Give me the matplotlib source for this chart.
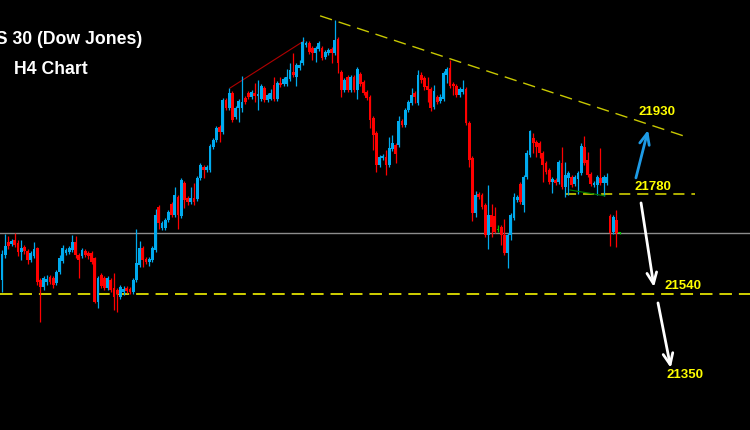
import matplotlib
matplotlib.use("Agg")
import matplotlib.pyplot as plt
import numpy as np

plt.rcParams["lines.scale_dashes"] = False

# US 30 H4 candles (price points)
opens = [21574, 21634, 21665, 21660, 21670, 21663, 21641, 21653, 21644, 21622,
         21632, 21651, 21574, 21557, 21569, 21581, 21579, 21567, 21593, 21620,
         21639, 21641, 21646, 21665, 21634, 21632, 21644, 21639, 21639, 21627,
         21521, 21586, 21579, 21555, 21574, 21555, 21550, 21533, 21545, 21555,
         21552, 21545, 21574, 21610, 21651, 21624, 21617, 21622, 21646, 21749,
         21699, 21699, 21718, 21756, 21730, 21773, 21728, 21807, 21771, 21761,
         21771, 21768, 21819, 21845, 21838, 21838, 21893, 21910, 21941, 21929,
         22006, 21987, 22023, 21965, 21987, 21987, 22011, 22023, 22013, 22023,
         22016, 22008, 22035, 22006, 22008, 22042, 22008, 22047, 22044, 22044,
         22056, 22073, 22061, 22083, 22095, 22138, 22143, 22131, 22119, 22128,
         22131, 22109, 22119, 22128, 22119, 22152, 22073, 22030, 22061, 22030,
         22061, 22030, 22068, 22049, 22025, 22013, 21963, 21927, 21850, 21867,
         21869, 21850, 21888, 21898, 21898, 21956, 21946, 21982, 21999, 22023,
         21999, 22066, 22059, 22040, 22032, 21989, 22013, 22004, 22008, 22066,
         22083, 22044, 22040, 22018, 22025, 22032, 21951, 21867, 21735, 21780,
         21778, 21754, 21682, 21730, 21728, 21694, 21701, 21682, 21639, 21682,
         21723, 21766, 21804, 21754, 21821, 21874, 21915, 21905, 21903, 21879,
         21855, 21838, 21809, 21814, 21809, 21855, 21797, 21819, 21821, 21804,
         21816, 21831, 21893, 21862, 21828, 21802, 21802, 21819, 21807, 21807,
         21728, 21689, 21718, 21687]
highs = [21646, 21684, 21680, 21672, 21687, 21670, 21670, 21658, 21648, 21644,
         21665, 21653, 21579, 21584, 21586, 21586, 21584, 21598, 21634, 21658,
         21651, 21656, 21682, 21680, 21639, 21651, 21648, 21644, 21644, 21629,
         21584, 21591, 21584, 21584, 21579, 21591, 21555, 21562, 21560, 21560,
         21557, 21579, 21696, 21668, 21656, 21629, 21629, 21656, 21744, 21754,
         21716, 21723, 21742, 21761, 21797, 21778, 21819, 21812, 21776, 21797,
         21807, 21824, 21855, 21850, 21850, 21900, 21915, 21944, 21946, 22011,
         22011, 22035, 22028, 21992, 22008, 22064, 22016, 22028, 22030, 22047,
         22054, 22044, 22040, 22023, 22032, 22061, 22052, 22061, 22061, 22080,
         22095, 22119, 22095, 22102, 22157, 22148, 22148, 22136, 22136, 22148,
         22136, 22126, 22131, 22133, 22198, 22157, 22078, 22059, 22066, 22066,
         22066, 22085, 22073, 22054, 22030, 22018, 21968, 21932, 21874, 21876,
         21886, 21917, 21922, 21903, 21968, 21960, 21987, 22006, 22035, 22028,
         22078, 22073, 22064, 22061, 22037, 22042, 22018, 22020, 22076, 22085,
         22102, 22049, 22044, 22037, 22054, 22037, 21956, 21872, 21788, 21785,
         21783, 21759, 21802, 21756, 21749, 21706, 21706, 21720, 21687, 21735,
         21783, 21778, 21809, 21826, 21886, 21934, 21927, 21910, 21908, 21884,
         21860, 21843, 21821, 21819, 21862, 21893, 21857, 21836, 21826, 21826,
         21836, 21903, 21920, 21881, 21833, 21812, 21826, 21891, 21826, 21831,
         21732, 21730, 21742, 21689]
lows = [21545, 21627, 21648, 21656, 21653, 21632, 21622, 21636, 21612, 21617,
        21627, 21562, 21473, 21550, 21562, 21564, 21555, 21562, 21588, 21615,
        21634, 21636, 21641, 21627, 21579, 21627, 21629, 21624, 21612, 21519,
        21507, 21555, 21550, 21550, 21545, 21502, 21497, 21528, 21538, 21543,
        21540, 21540, 21569, 21605, 21605, 21612, 21608, 21617, 21641, 21696,
        21694, 21694, 21713, 21725, 21725, 21696, 21723, 21747, 21754, 21756,
        21754, 21764, 21814, 21819, 21833, 21833, 21888, 21905, 21905, 21924,
        21982, 21982, 21953, 21960, 21953, 21977, 21996, 22008, 22008, 22001,
        21982, 22004, 22001, 22001, 22006, 22004, 22004, 22037, 22040, 22040,
        22052, 22061, 22040, 22078, 22090, 22133, 22116, 22102, 22097, 22124,
        22102, 22104, 22114, 22095, 22114, 22071, 22013, 22025, 22025, 22025,
        22025, 22008, 22040, 22018, 22006, 21939, 21886, 21833, 21845, 21862,
        21826, 21845, 21884, 21855, 21893, 21941, 21941, 21977, 21994, 21999,
        21994, 22047, 22030, 22001, 21980, 21984, 21996, 21999, 22004, 22047,
        22035, 22018, 22013, 22013, 22020, 21946, 21845, 21716, 21725, 21768,
        21744, 21677, 21648, 21677, 21687, 21689, 21658, 21634, 21603, 21670,
        21718, 21761, 21756, 21737, 21816, 21869, 21879, 21869, 21867, 21809,
        21828, 21804, 21783, 21802, 21804, 21792, 21773, 21778, 21797, 21800,
        21780, 21826, 21850, 21821, 21800, 21797, 21778, 21802, 21776, 21802,
        21656, 21684, 21653, 21684]
closes = [21636, 21656, 21656, 21668, 21658, 21641, 21651, 21644, 21622, 21639,
          21648, 21569, 21557, 21579, 21576, 21569, 21562, 21593, 21627, 21651,
          21646, 21651, 21665, 21634, 21622, 21646, 21634, 21632, 21617, 21521,
          21579, 21560, 21555, 21579, 21550, 21533, 21540, 21557, 21552, 21548,
          21545, 21574, 21615, 21651, 21622, 21617, 21624, 21651, 21730, 21711,
          21711, 21718, 21737, 21730, 21778, 21730, 21814, 21766, 21761, 21771,
          21761, 21819, 21850, 21838, 21845, 21896, 21910, 21939, 21929, 22006,
          21987, 22023, 21958, 21987, 22004, 22001, 22001, 22013, 22025, 22016,
          22020, 22040, 22006, 22018, 22023, 22008, 22047, 22042, 22056, 22061,
          22078, 22066, 22090, 22090, 22145, 22143, 22121, 22119, 22131, 22143,
          22107, 22121, 22126, 22119, 22150, 22095, 22030, 22054, 22030, 22061,
          22030, 22080, 22044, 22023, 22011, 21958, 21922, 21850, 21869, 21872,
          21850, 21891, 21903, 21876, 21956, 21946, 21982, 22001, 22018, 22013,
          22066, 22054, 22037, 22030, 21987, 22028, 22001, 22013, 22071, 22080,
          22040, 22040, 22018, 22032, 22032, 21951, 21862, 21735, 21778, 21773,
          21749, 21682, 21730, 21701, 21689, 21694, 21682, 21639, 21682, 21730,
          21773, 21773, 21761, 21821, 21879, 21932, 21903, 21893, 21879, 21850,
          21833, 21809, 21816, 21807, 21857, 21797, 21826, 21831, 21802, 21821,
          21831, 21896, 21855, 21826, 21804, 21807, 21821, 21807, 21821, 21821,
          21687, 21725, 21687, 21687]

# analysis levels and drawn lines
support_level = 21540
range_low = 21780
range_x = [175.9, 216.6]
trend_x = [99.4, 214.1]
trend_y = [22208, 21917]
red_trend_x = [71.3, 94.4]
red_trend_y = [22035, 22148]
green_x = [177.5, 188.4]
green_y = [21790, 21776]

level_labels = ["21930", "21780", "21540", "21350"]
label_x = [204.7, 203.4, 212.8, 213.4]
label_y = [21977, 21797, 21560, 21346]

BLUE = "#00aaee"
RED = "#ff0000"
GREEN = "#00c000"
YELLOW = "#e0e000"

fig = plt.figure(figsize=(7.5, 4.3), dpi=100, facecolor="black")
ax = fig.add_axes([0, 0, 1, 1])
ax.set_facecolor("black")
ax.set_axis_off()

o = np.array(opens)
h = np.array(highs)
l = np.array(lows)
c = np.array(closes)
x = np.arange(len(c))
colors = np.where(c > o, BLUE, np.where(c < o, RED, GREEN))

ax.vlines(x, l, h, colors=colors, lw=0.9, zorder=3)
body = np.abs(c - o)
body = np.where(body < 2, 2, body)
ax.bar(x, body, bottom=np.minimum(o, c), width=0.85, color=colors,
       linewidth=0, zorder=4)

# last price line
ax.axhline(closes[-1], color="#8c8c8c", lw=1.0, zorder=2)

# support / range lines
ax.axhline(support_level, color=YELLOW, lw=1.3, dashes=(9, 5), zorder=2)
ax.plot(range_x, [range_low, range_low], color=YELLOW, lw=1.1, dashes=(8, 5), zorder=2)
ax.plot(trend_x, trend_y, color="#c8c800", lw=1.0, dashes=(9, 5), zorder=2)
ax.plot(red_trend_x, red_trend_y, color="#b00000", lw=0.8, zorder=2)
ax.plot(green_x, green_y, color="#008000", lw=0.8, zorder=5)

for txt, tx, ty in zip(level_labels, label_x, label_y):
    ax.text(tx, ty, txt, color="#ffff00", fontsize=9.5, fontweight="bold",
            family="Liberation Sans", ha="center", va="center")

arrow_kw = dict(arrowstyle="->,head_length=0.8,head_width=0.35", lw=2.0,
                shrinkA=0, shrinkB=0)
ax.annotate("", xy=(201.9, 21934), xytext=(198.1, 21819),
            arrowprops=dict(color="#1e9be6", **arrow_kw))
ax.annotate("", xy=(203.75, 21557), xytext=(199.7, 21759),
            arrowprops=dict(color="white", **arrow_kw))
ax.annotate("", xy=(209.0, 21363), xytext=(205.0, 21519),
            arrowprops=dict(color="white", **arrow_kw))

ax.set_xlim(-0.625, 233.75)
ax.set_ylim(21214, 22246)

# title partly runs off the left edge, as in the source screenshot
fig.text(142 / 750, 1 - 40 / 430, "US 30 (Dow Jones)", color="white",
         fontsize=12.7, fontweight="bold", family="Liberation Sans",
         ha="right", va="center")
fig.text(14 / 750, 1 - 69 / 430, "H4 Chart", color="white",
         fontsize=12.7, fontweight="bold", family="Liberation Sans",
         ha="left", va="center")

fig.savefig("out.png", dpi=100, facecolor="black")
